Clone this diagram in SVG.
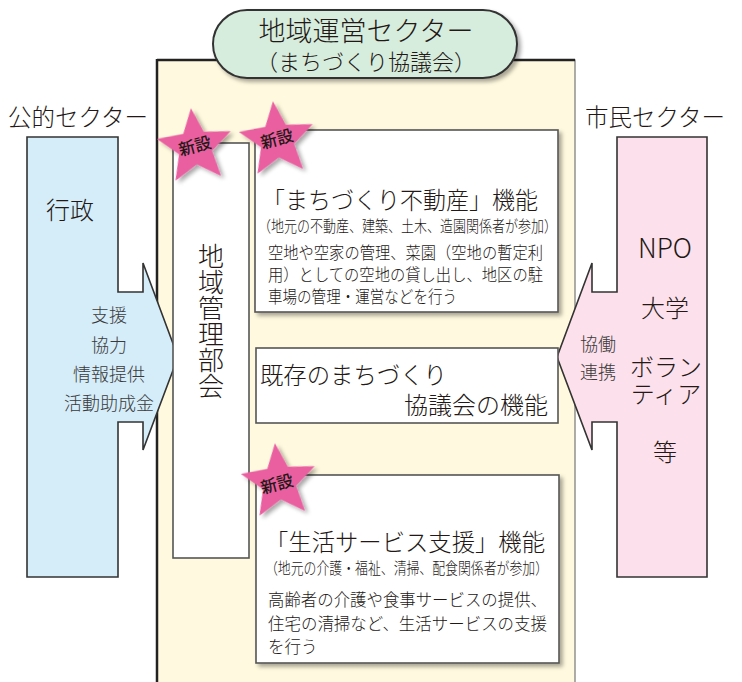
<svg xmlns="http://www.w3.org/2000/svg" width="742" height="682" viewBox="0 0 742 682">
<style>
text{font-family:"Noto Sans CJK JP","Noto Sans",sans-serif;fill:#231815;font-weight:300}
.box{fill:#fff;stroke:#555;stroke-width:1.6}
.shape{stroke:#333;stroke-width:1.6;stroke-linejoin:miter}
.star{fill:#ea5fa0}
.sm{font-size:18px;fill:#3a3a3a}
.sub{font-size:15.5px}
.body{font-size:16.5px}
.ns{font-size:16.5px;font-weight:500}
</style>
<defs>
<filter id="sh" x="-30%" y="-30%" width="160%" height="160%">
<feGaussianBlur in="SourceAlpha" stdDeviation="2"/>
<feOffset dx="3" dy="3" result="b"/>
<feComponentTransfer><feFuncA type="linear" slope="0.35"/></feComponentTransfer>
<feMerge><feMergeNode/><feMergeNode in="SourceGraphic"/></feMerge>
</filter>
<polygon id="starShape" points="0,-39 10.3,-14.2 37.1,-12 16.6,5.4 22.9,31.5 0,17.5 -22.9,31.5 -16.6,5.4 -37.1,-12 -10.3,-14.2"/>
</defs>
<rect width="742" height="682" fill="#fff"/>

<g id="region">
<rect x="157" y="60" width="418" height="640" fill="#fffadf" stroke="#777" stroke-width="1.2"/>
<line x1="157" y1="60" x2="575" y2="60" stroke="#222" stroke-width="2.5"/>
<line x1="157" y1="59" x2="157" y2="690" stroke="#222" stroke-width="2.5"/>
</g>

<g id="title">
<rect x="213" y="10" width="304" height="68" rx="34" fill="#d6ecdd" stroke="#333" stroke-width="2" filter="url(#sh)"/>
<text text-anchor="middle"><tspan x="366" y="41" font-size="27">地域運営セクター</tspan><tspan x="366" y="70" font-size="22">（まちづくり協議会）</tspan></text>
</g>

<g id="public-sector">
<text x="8" y="126" font-size="23.5">公的セクター</text>
<polygon class="shape" fill="#d5ecf9" points="27,137 118,137 118,292 143,292 143,263 178,357 143,450 143,422 118,422 118,577 27,577"/>
<text x="70" y="219" text-anchor="middle" font-size="24">行政</text>
<text x="109" y="322" text-anchor="middle" class="sm">支援</text>
<text x="109" y="352" text-anchor="middle" class="sm">協力</text>
<text x="109" y="381" text-anchor="middle" class="sm">情報提供</text>
<text x="109" y="410" text-anchor="middle" class="sm">活動助成金</text>
</g>

<g id="management">
<rect class="box" x="173" y="143" width="76" height="415"/>
<text x="211" y="243" font-size="26" style="writing-mode:vertical-rl">地域管理部会</text>
</g>

<g id="civic-sector">
<text x="585" y="126" font-size="23.5">市民セクター</text>
<polygon class="shape" fill="#fce0eb" points="707,137 617,137 617,292 592,292 592,263 557,357 592,450 592,422 617,422 617,577 707,577"/>
<text x="665" y="258" text-anchor="middle" font-size="27" textLength="54" lengthAdjust="spacingAndGlyphs">NPO</text>
<text x="665" y="317" text-anchor="middle" font-size="24">大学</text>
<text text-anchor="middle" font-size="24"><tspan x="666" y="376">ボラン</tspan><tspan x="666" y="403">ティア</tspan></text>
<text x="665" y="461" text-anchor="middle" font-size="24">等</text>
<text x="598" y="351" text-anchor="middle" class="sm">協働</text>
<text x="598" y="379" text-anchor="middle" class="sm">連携</text>
</g>

<g id="fudosan">
<rect class="box" x="255" y="130" width="303" height="182" filter="url(#sh)"/>
<text x="262" y="209" font-size="23.5" textLength="276" lengthAdjust="spacingAndGlyphs">「まちづくり不動産」機能</text>
<text x="258" y="232" class="sub" textLength="299" lengthAdjust="spacingAndGlyphs">（地元の不動産、建築、土木、造園関係者が参加）</text>
<text x="268" y="259" class="body" textLength="275" lengthAdjust="spacingAndGlyphs">空地や空家の管理、菜園（空地の暫定利</text>
<text x="268" y="281" class="body" textLength="275" lengthAdjust="spacingAndGlyphs">用）としての空地の貸し出し、地区の駐</text>
<text x="268" y="303" class="body" textLength="189" lengthAdjust="spacingAndGlyphs">車場の管理・運営などを行う</text>
</g>

<g id="existing">
<rect class="box" x="256" y="348" width="302" height="75"/>
<text x="260" y="384" font-size="24" textLength="187" lengthAdjust="spacingAndGlyphs">既存のまちづくり</text>
<text x="548" y="414" font-size="24" text-anchor="end">協議会の機能</text>
</g>

<g id="seikatsu">
<rect class="box" x="256" y="475" width="303" height="188" filter="url(#sh)"/>
<text x="265" y="551" font-size="23.5" textLength="280" lengthAdjust="spacingAndGlyphs">「生活サービス支援」機能</text>
<text x="265" y="574" class="sub" textLength="283" lengthAdjust="spacingAndGlyphs">（地元の介護・福祉、清掃、配食関係者が参加）</text>
<text x="268" y="606" class="body" textLength="279" lengthAdjust="spacingAndGlyphs">高齢者の介護や食事サービスの提供、</text>
<text x="268" y="630" class="body" textLength="279" lengthAdjust="spacingAndGlyphs">住宅の清掃など、生活サービスの支援</text>
<text x="268" y="653" class="body">を行う</text>
</g>

<g id="star-1">
<use href="#starShape" class="star" filter="url(#sh)" transform="translate(195,147) rotate(-6)"/>
<text class="ns" text-anchor="middle" transform="translate(195,146) rotate(-15)" y="6">新設</text>
</g>
<g id="star-2">
<use href="#starShape" class="star" filter="url(#sh)" transform="translate(277,140) rotate(-6)"/>
<text class="ns" text-anchor="middle" transform="translate(277,139) rotate(-15)" y="6">新設</text>
</g>
<g id="star-3">
<use href="#starShape" class="star" filter="url(#sh)" transform="translate(279,482) rotate(-6)"/>
<text class="ns" text-anchor="middle" transform="translate(277,484) rotate(-15)" y="6">新設</text>
</g>

<g id="connectors"></g>
</svg>
